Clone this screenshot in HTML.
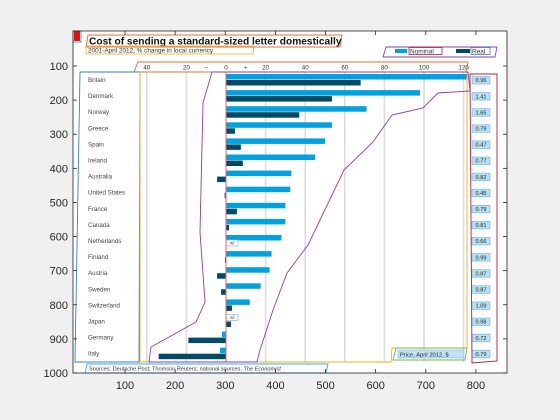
<!DOCTYPE html>
<html><head><meta charset="utf-8"><style>
html,body{margin:0;padding:0;background:#f0f0f0;}
svg{display:block;font-family:"Liberation Sans",sans-serif;}
</style></head><body>
<svg id="c" width="560" height="420" viewBox="0 0 560 420" xmlns="http://www.w3.org/2000/svg">
<rect x="0" y="0" width="560" height="420" fill="#f0f0f0"/>
<rect x="73" y="31" width="434" height="342" fill="#fff"/>
<g id="grid"></g>
<g id="bars"></g>
<g id="labels"></g>
<g id="prices"></g>
<g id="overlay">
  <rect x="74" y="31" width="6" height="10" fill="#e3120b"/>
  <rect x="73" y="31" width="8" height="11" fill="none" stroke="#3a7fc1" stroke-width="0.8"/>
  <polygon points="88,35 342,35 340,47 86,47" fill="none" stroke="#e07030" stroke-width="1"/>
  <text x="89" y="44.5" font-size="10.2" font-weight="bold" fill="#111">Cost of sending a standard-sized letter domestically</text>
  <polygon points="86,46 254,46 253,54 86,54" fill="none" stroke="#e8b020" stroke-width="0.8"/>
  <text x="88" y="52.5" font-size="6.4" fill="#333">2001-April 2012, % change in local currency</text>
  <polygon points="386,47 497,47 495,57 383,57" fill="none" stroke="#8a3fa8" stroke-width="0.9"/>
  <rect x="395" y="49" width="12" height="4" fill="#00a1dc"/>
  <rect x="409" y="47.5" width="33" height="7" fill="none" stroke="#b0203a" stroke-width="0.8"/>
  <text x="410" y="53.5" font-size="6.5" fill="#333">Nominal</text>
  <rect x="456" y="49" width="14" height="4" fill="#004a66"/>
  <rect x="471" y="47.5" width="19" height="7" fill="none" stroke="#3a7fc1" stroke-width="0.8"/>
  <text x="472" y="53.5" font-size="6.5" fill="#333">Real</text>
  <polygon points="138,62 468,62 466,72 134,72" fill="none" stroke="#e07030" stroke-width="0.9"/>
  <polygon points="80,72 140,72 139,362 75,362" fill="none" stroke="#3a7fc1" stroke-width="0.9"/>
  <polyline points="140,72 140,362 391,362 392,348 467,348 467,72" fill="none" stroke="#e8b020" stroke-width="0.9"/>
  <polygon points="470,74 497,74 497,361 472,363" fill="none" stroke="#b0203a" stroke-width="0.9"/>
  <polygon points="212,72 468,72 470,91 438,93 423,108 392,115 373,142 344,170 308,245 287,273 273,310 260,350 257,362 149,362 151,347 196,322 205,302 200,232 203,103" fill="none" stroke="#8a3fa8" stroke-width="0.9"/>
  <polygon points="396,348 467,348 465,360 393,360" fill="none" stroke="#80b040" stroke-width="0.9"/>
  <rect x="398" y="350" width="66" height="8" fill="#bfe4f5" stroke="#7ab8d8" stroke-width="0.6"/>
  <text x="400" y="356.5" font-size="5.8" fill="#222">Price, April 2012, $</text>
  <polygon points="87,364 328,364 326,373 85,373" fill="#fff" stroke="#40a8e0" stroke-width="0.9"/>
  <text x="89" y="370.5" font-size="5.6" fill="#333">Sources: Deutsche Post; Thomson Reuters; national sources; <tspan font-style="italic">The Economist</tspan></text>
</g>
<rect x="73" y="31" width="434" height="342" fill="none" stroke="#222" stroke-width="0.8"/>
<g id="axes"></g>
</svg>
<script>
const countries=["Britain","Denmark","Norway","Greece","Spain","Ireland","Australia","United States","France","Canada","Netherlands","Finland","Austria","Sweden","Switzerland","Japan","Germany","Italy"];
const nominal=[122,98,71,53.5,50,45,33,32.5,30,30,28,23,22,17.5,12,null,-2,-3];
const real=[68,53.5,37,4.5,7.5,8.5,-4.5,-0.7,5.5,1.5,null,-0.5,-4.5,-2.5,3,2.5,-19,-34];
const prices=["0.96","1.41","1.65","0.79","0.47","0.77","0.82","0.45","0.79","0.81","0.66","0.99","0.87","0.87","1.09","0.98","0.72","0.79"];
const innerTicks=[-40,-20,0,20,40,60,80,100,120];
const xTicks=[100,200,300,400,500,600,700,800];
const yTicks=[100,200,300,400,500,600,700,800,900,1000];
const NS="http://www.w3.org/2000/svg";
function mk(t,a,p){const e=document.createElementNS(NS,t);for(const k in a)e.setAttribute(k,a[k]);p.appendChild(e);return e;}
const vx=v=>226+v*1.98;
const rowY=i=>80+i*16.1;
const ax=v=>125+(v-100)*0.5013;
const ay=v=>66+(v-100)*0.3411;
const G=document.getElementById('grid'),B=document.getElementById('bars'),L=document.getElementById('labels'),P=document.getElementById('prices'),A=document.getElementById('axes');
innerTicks.forEach(t=>{
  if(t!==0){const l=mk('line',{x1:vx(t),x2:vx(t),y1:72,y2:362,stroke:'#dcdcdc','stroke-width':1.6},G);
  
  }
  const tx=mk('text',{x:vx(t),y:69.5,'font-size':6.2,'text-anchor':'middle',fill:'#333'},G);
  tx.textContent=String(Math.abs(t));
  
  
});
[['–',-10],['+',10]].forEach(s=>{const tx=mk('text',{x:vx(s[1]),y:69.5,'font-size':6.2,'text-anchor':'middle',fill:'#333'},G);tx.textContent=s[0];

});
countries.forEach((c,i)=>{
  const y=rowY(i);
  if(nominal[i]!==null){const v=Math.min(nominal[i],122);const x0=Math.min(vx(0),vx(v));
    const r=mk('rect',{x:x0,y:y-6,width:Math.abs(vx(v)-vx(0)),height:5.5,fill:'#00a1dc'},B);
    
    }
  if(real[i]!==null){const x0=Math.min(vx(0),vx(real[i]));
    const r=mk('rect',{x:x0,y:y,width:Math.max(1,Math.abs(vx(real[i])-vx(0))),height:5.5,fill:'#004a66'},B);
    
    }
  if(nominal[i]===null||real[i]===null){const yy=nominal[i]===null?y-7:y-1;
    const r=mk('rect',{x:vx(0),y:yy,width:12,height:6,fill:'#fff',stroke:'#80c0e0','stroke-width':0.7},B);
    
    
    const t=mk('text',{x:vx(0)+6,y:yy+4.6,'font-size':4.5,'font-style':'italic','text-anchor':'middle',fill:'#444'},B);t.textContent='nil';
    
    }
  const t=mk('text',{x:88,y:y+2,'font-size':6.2,fill:'#444'},L);t.textContent=c;
  
  
  const pr=mk('rect',{x:472,y:y-3.5,width:18,height:7.5,fill:'#b5e0f5',stroke:'#6fb0d5','stroke-width':0.6},P);
  
  
  const pt=mk('text',{x:481,y:y+2.2,'font-size':5.6,'text-anchor':'middle',fill:'#222'},P);pt.textContent=prices[i];
  
  
});
const zl=mk('line',{x1:vx(0),x2:vx(0),y1:72,y2:362,stroke:'#f06060','stroke-width':1},B);


xTicks.forEach(t=>{
  mk('line',{x1:ax(t),x2:ax(t),y1:373,y2:369,stroke:'#222','stroke-width':0.8},A);
  mk('line',{x1:ax(t),x2:ax(t),y1:31,y2:35,stroke:'#222','stroke-width':0.8},A);
  const tx=mk('text',{x:ax(t),y:389,'font-size':11,'text-anchor':'middle',fill:'#262626'},A);tx.textContent=t;
  
  
});
yTicks.forEach(t=>{
  mk('line',{x1:73,x2:77,y1:ay(t),y2:ay(t),stroke:'#222','stroke-width':0.8},A);
  mk('line',{x1:507,x2:503,y1:ay(t),y2:ay(t),stroke:'#222','stroke-width':0.8},A);
  const tx=mk('text',{x:68,y:ay(t)+4,'font-size':11,'text-anchor':'end',fill:'#262626'},A);tx.textContent=t;
  
  
});
</script>
</body></html>
